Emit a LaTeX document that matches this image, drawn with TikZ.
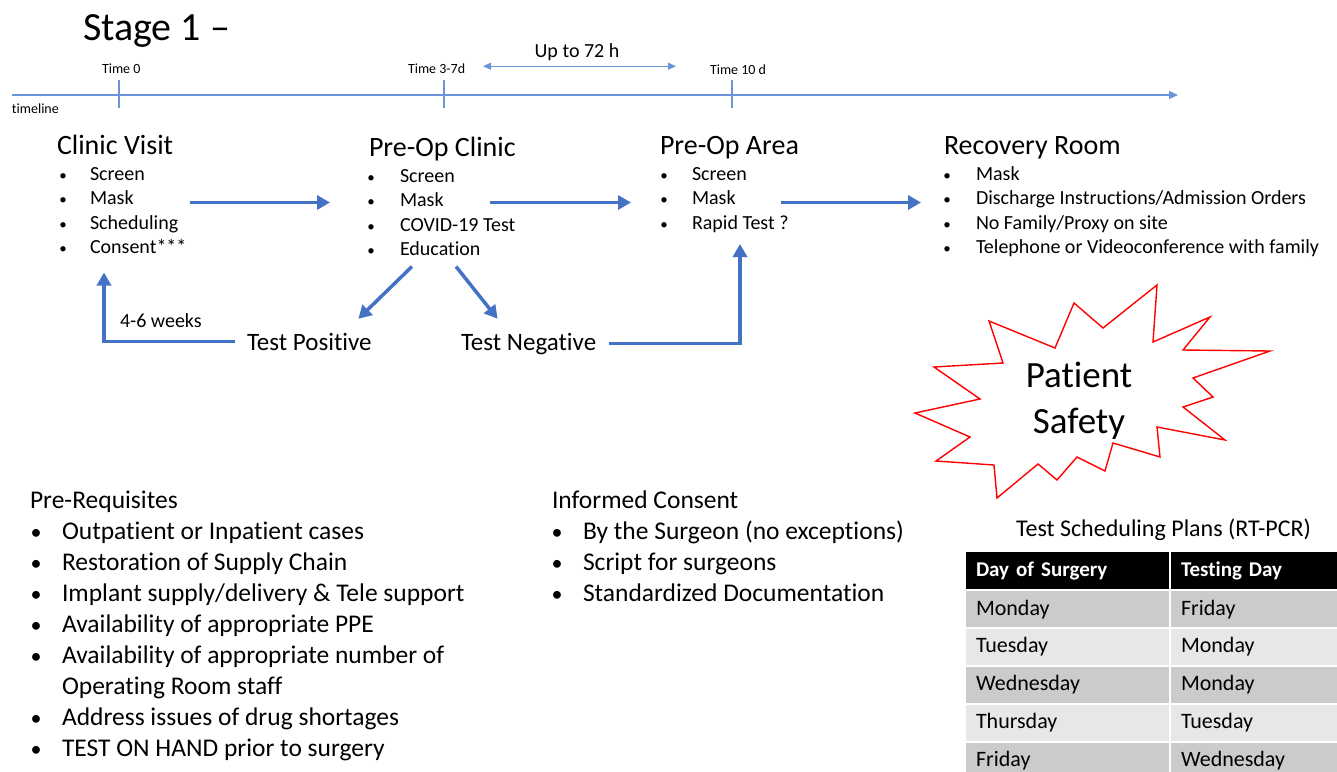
\documentclass[tikz,border=0pt]{standalone}
\usepackage{fontspec}
\setmainfont{Carlito}[Ligatures={TeX,NoCommon}]
\usetikzlibrary{arrows.meta, positioning, calc}
\definecolor{FlowBlue}{HTML}{4472C4}
\definecolor{LineBlue}{HTML}{6A93D8}
\definecolor{StarRed}{HTML}{FF0000}
\definecolor{RowDark}{HTML}{CBCBCB}
\definecolor{RowLight}{HTML}{E7E7E7}
\newcommand{\fsz}[2]{\fontsize{#1}{#2}\selectfont}

\begin{document}
\begin{tikzpicture}[
    x=1pt, y=-1pt,
    every node/.style={inner sep=0pt, outer sep=0pt},
    title/.style={anchor=base west, font=\fsz{40}{48}},
    tlabel/.style={anchor=base west, font=\fsz{14}{17}},
    head/.style={anchor=base west, font=\fsz{28}{34}},
    item/.style={anchor=base west, font=\fsz{20}{24}},
    dot/.style={anchor=base, font=\fsz{15}{18}},
    result/.style={anchor=base west, font=\fsz{25}{30}},
    bigitem/.style={anchor=base west, font=\fsz{25.5}{31}},
    bigdot/.style={anchor=base, font=\fsz{22}{26}},
    tline/.style={draw=LineBlue, line width=1.2pt},
    flow/.style={draw=FlowBlue, line width=3.5pt, -{Triangle[length=13pt,width=14pt]}},
    cell/.style={anchor=north west, minimum height=36pt, text width=183pt, inner xsep=10pt, align=left, font=\fsz{22}{26}},
    hcell/.style={cell, minimum height=37pt, fill=black, text=white, font=\fsz{21}{25}\bfseries}
  ]
    \useasboundingbox (0,0) rectangle (1337,771);
    \fill[white] (0,0) rectangle (1337,771);
    \clip (0,0) rectangle (1337,771);

    \node[title] (stage) at (83,40) {Stage 1 –};

    % timeline
    \draw[tline, -{Triangle[length=9pt,width=8pt]}] (12,95) -- (1178,95);
    \foreach \x in {119, 444, 732}
      \draw[tline] (\x,80) -- (\x,108);
    \node[tlabel] (tl) at (12,113) {timeline};
    \node[tlabel] (t0) at (102,73) {Time 0};
    \node[tlabel] (t37) at (408,73) {Time 3-7d};
    \node[tlabel] (t10) at (710,74) {Time 10 d};
    \node[item, anchor=base] (u72) at (577,57) {Up to 72 h};
    \draw[tline, line width=1pt, {Triangle[length=8pt,width=7pt]}-{Triangle[length=8pt,width=7pt]}]
      ($(u72.south)+(-94,6)$) -- ($(u72.south)+(99,6)$);

    % stations
    \node[head] (cv) at (57,154) {Clinic Visit};
    \node[head] (pc) at (369,156) {Pre-Op Clinic};
    \node[head] (pa) at (660,154) {Pre-Op Area};
    \node[head] (rr) at (944,154) {Recovery Room};

    \foreach \t [count=\i] in {Screen, Mask, Scheduling, Consent***} {
      \node[dot] (cvb\i) at (63,{155.5+24.5*\i}) {\textbullet};
      \node[item] (cv\i) at (90,{155.5+24.5*\i}) {\t};
    }
    \foreach \t [count=\i] in {Screen, Mask, COVID-19 Test, Education} {
      \node[dot] (pcb\i) at (371,{157.5+24.5*\i}) {\textbullet};
      \node[item] (pc\i) at (400,{157.5+24.5*\i}) {\t};
    }
    \foreach \t [count=\i] in {Screen, Mask, Rapid Test ?} {
      \node[dot] (pab\i) at (664,{155.5+24.5*\i}) {\textbullet};
      \node[item] (pa\i) at (692,{155.5+24.5*\i}) {\t};
    }
    \foreach \t [count=\i] in {Mask, Discharge Instructions/Admission Orders, No Family/Proxy on site, Telephone or Videoconference with family} {
      \node[dot] (rrb\i) at (947,{155.5+24.5*\i}) {\textbullet};
      \node[item] (rr\i) at (976,{155.5+24.5*\i}) {\t};
    }

    \node[result] (tpos) at (247,350) {Test Positive};
    \node[result] (tneg) at (461,350) {Test Negative};
    \node[item] (wait) at (120,327) {4-6 weeks};

    \draw[flow] ($(cv2.base east)+(56,-2)$) -- ($(pcb2.base)+(-41,-4)$);
    \draw[flow] ($(pc2.base east)+(46,-4)$) -- ($(pab2.base)+(-33,-2)$);
    \draw[flow] ($(pa2.base east)+(45,-2)$) -- ($(rrb2.base)+(-26,-2)$);
    \draw[flow] ($(pc4.base west)+(12,11)$) -- ($(tpos.north)+(49,-14)$);
    \draw[flow] ($(pc4.base west)+(56,11)$) -- ($(tneg.north)+(-31,-14)$);
    \draw[flow] ($(tpos.west)+(-12,0)$) -| ($(cv4.base west)+(14,19)$);
    \draw[flow] ($(tneg.east)+(13,0)$) -| ($(pa3.base west)+(48,15)$);

    % patient safety burst
    \draw[StarRed, line width=1.4pt, fill=white, line join=miter]
      (1157,285) -- (1153,342) -- (1210,317) -- (1183,350) -- (1270,351)
      -- (1193,378) -- (1213,397) -- (1183,407) -- (1225,440) -- (1157,427)
      -- (1160,457) -- (1113,443) -- (1105,471) -- (1077,457) -- (1057,480)
      -- (1038,464) -- (997,498) -- (994,465) -- (936,461) -- (970,437)
      -- (915,413) -- (980,399) -- (934,367) -- (1003,363) -- (989,321)
      -- (1055,348) -- (1074,303) -- (1103,328) -- cycle;
    \node[anchor=base, font=\fsz{37}{46}] (ps1) at (1079,387) {Patient};
    \node[anchor=base, font=\fsz{37}{46}] (ps2) at (1079,433) {Safety};

    % lower lists
    \node[bigitem] (pre) at (30,508) {Pre-Requisites};
    \foreach \t [count=\i] in {Outpatient or Inpatient cases, Restoration of Supply Chain,
        Implant supply/delivery \& Tele support, Availability of appropriate PPE,
        Availability of appropriate number of} {
      \node[bigdot] (preb\i) at (36,{508+31*\i}) {\textbullet};
      \node[bigitem] (pre\i) at (62,{508+31*\i}) {\t};
    }
    \node[bigitem] (pre5b) at (62,694) {Operating Room staff};
    \node[bigdot] (preb6) at (36,725) {\textbullet};
    \node[bigitem] (pre6) at (62,725) {Address issues of drug shortages};
    \node[bigdot] (preb7) at (36,756) {\textbullet};
    \node[bigitem] (pre7) at (62,756) {TEST ON HAND prior to surgery};

    \node[bigitem] (ic) at (552,508) {Informed Consent};
    \foreach \t [count=\i] in {By the Surgeon (no exceptions), Script for surgeons, Standardized Documentation} {
      \node[bigdot] (icb\i) at (557,{508+31*\i}) {\textbullet};
      \node[bigitem] (ic\i) at (583,{508+31*\i}) {\t};
    }

    % scheduling table
    \node[anchor=base west, font=\fsz{24}{29}] (tsp) at (1016,536) {Test Scheduling Plans (RT-PCR)};
    \node[hcell] (hd1) at (966,552) {Day of Surgery};
    \node[hcell, text width=209pt] (hd2) at (1171,552) {Testing Day};
    \foreach \d/\t [count=\i] in {Monday/Friday, Tuesday/Monday, Wednesday/Monday, Thursday/Tuesday, Friday/Wednesday} {
      \ifodd\i \def\rowcol{RowDark}\else \def\rowcol{RowLight}\fi
      \node[cell, fill=\rowcol] (sd\i) at (966,{553.5+37.8*\i}) {\d};
      \node[cell, fill=\rowcol, text width=209pt] (td\i) at (1171,{553.5+37.8*\i}) {\t};
    }
  \end{tikzpicture}
\end{document}
